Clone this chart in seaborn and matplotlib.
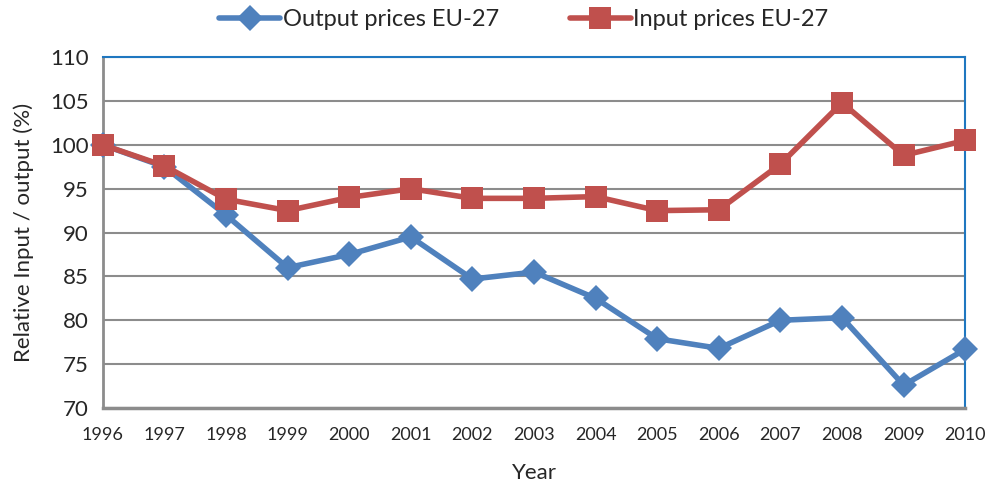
import pandas as pd
import numpy as np
import matplotlib.pyplot as plt
import seaborn as sns

years = [1996, 1997, 1998, 1999, 2000, 2001, 2002, 2003, 2004, 2005, 2006, 2007, 2008, 2009, 2010]
output_prices = [100, 97.5, 92.0, 86.0, 87.5, 89.5, 84.7, 85.5, 82.5, 77.9, 76.8, 80.0, 80.3, 72.6, 76.7]
input_prices = [100, 97.6, 93.8, 92.5, 94.0, 95.0, 93.9, 93.9, 94.1, 92.5, 92.6, 97.8, 104.8, 98.8, 100.5]
series_names = ["Output prices EU-27", "Input prices EU-27"]

df = pd.DataFrame({"Year": years,
                   series_names[0]: output_prices,
                   series_names[1]: input_prices})
long_df = df.melt(id_vars="Year", var_name="Series", value_name="Value")

sns.set_style("white")
plt.rcParams['font.family'] = ['Lato', 'DejaVu Sans']

fig, ax = plt.subplots(figsize=(9.88, 4.84), dpi=100)
fig.subplots_adjust(left=0.104, right=0.977, top=0.882, bottom=0.157)

palette = {series_names[0]: "#4F81BD", series_names[1]: "#C0504D"}
markers = {series_names[0]: "D", series_names[1]: "s"}
sizes = {series_names[0]: 13, series_names[1]: 15.5}
sns.lineplot(data=long_df, x="Year", y="Value", hue="Series", style="Series",
             palette=palette, markers=markers, dashes=False, linewidth=4,
             markeredgewidth=0, ax=ax, zorder=3, legend=False)

for line, name in zip(ax.lines, series_names):
    line.set_markersize(sizes[name])
    line.set_clip_on(False)

ax.set_xlim(1996, 2010)
ax.set_ylim(70, 110)
ax.set_xticks(years)
ax.set_yticks(np.arange(70, 111, 5))
ax.tick_params(axis='x', labelsize=13, length=0, pad=14)
ax.tick_params(axis='y', labelsize=16, length=0, pad=10)
ax.yaxis.grid(True, color="#8C8C8C", linewidth=1.5)
ax.set_axisbelow(True)

ax.set_xlabel("Year", fontsize=16, labelpad=14)
ax.set_ylabel("Relative Input / output (%)", fontsize=16, labelpad=12)

for side in ["top", "right"]:
    ax.spines[side].set_color("#1F77C0")
    ax.spines[side].set_linewidth(1.5)
ax.spines["left"].set_color("#8C8C8C")
ax.spines["left"].set_linewidth(2)
ax.spines["bottom"].set_color("#8C8C8C")
ax.spines["bottom"].set_linewidth(2.5)
for s in ax.spines.values():
    s.set_zorder(1)

handles = [plt.Line2D([], [], color=palette[n], marker=markers[n], markersize=sizes[n],
                      markeredgewidth=0, linewidth=4) for n in series_names]
fig.legend(handles, series_names, loc="center", bbox_to_anchor=(0.53, 0.96), ncol=2,
           frameon=False, fontsize=17, handlelength=2.6, handletextpad=0.1,
           columnspacing=3.0)

fig.savefig("out.png", dpi=100)
